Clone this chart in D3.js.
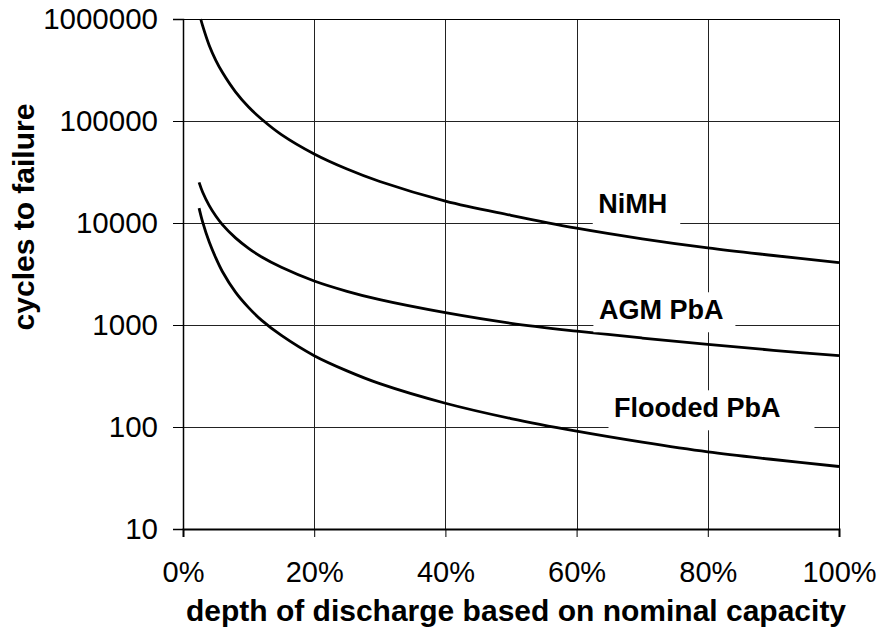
<!DOCTYPE html>
<html>
<head>
<meta charset="utf-8">
<script src="https://cdn.jsdelivr.net/npm/d3@7"></script>
<style>
body { margin: 0; background: #fff; }
text { font-family: "Liberation Sans", Arial, sans-serif; }
</style>
</head>
<body>
<script>
var margin = {top: 19, right: 39, bottom: 98, left: 183},
width = 656,
height = 510;

// depth of discharge (%) and cycles to failure
var nimhDod = [2.7, 3, 4, 5, 6, 8, 10, 12, 15, 20, 25, 30, 40, 50, 60, 70, 80, 90, 100];
var nimhCycles = [1000000, 856000, 550000, 393000, 300000, 193000, 137000, 104000, 73500, 47500, 33800, 25500, 16400, 11900, 8900, 7000, 5700, 4800, 4080];
var pbaDod = [2.45, 3, 4, 5, 6, 8, 10, 12, 15, 20, 25, 30, 40, 50, 60, 70, 80, 90, 100];
var agmCycles = [25000, 20000, 14800, 11700, 9650, 7150, 5650, 4640, 3680, 2700, 2140, 1770, 1320, 1040, 870, 745, 645, 565, 500];
var floodedCycles = [14000, 10200, 6500, 4550, 3350, 2100, 1480, 1110, 790, 500, 355, 266, 171, 121, 91, 71, 57, 48, 41];

var xTicks = [0, 20, 40, 60, 80, 100];
var yTicks = [10, 100, 1000, 10000, 100000, 1000000];

var seriesNames = ["NiMH", "AGM PbA", "Flooded PbA"];
var series = [
  nimhDod.map(function (d, i) { return {dod: d, cycles: nimhCycles[i]}; }),
  pbaDod.map(function (d, i) { return {dod: d, cycles: agmCycles[i]}; }),
  pbaDod.map(function (d, i) { return {dod: d, cycles: floodedCycles[i]}; })
];

// label placement: text start (%), baseline (cycles), extra white box on the right
var labelLayout = [
  {x: 63.3, y: 12450, padRight: 13},
  {x: 63.4, y: 1138, padRight: 12},
  {x: 65.7, y: 124.5, padRight: 34}
];

var svg = d3.select('body').append('svg')
  .attr('width', 878).attr('height', 627)
  .append('g')
  .attr('transform', 'translate(' + margin.left + ',' + margin.top + ')');

var x = d3.scaleLinear().domain([0, 100]).range([0, width]);
var y = d3.scaleLog().domain([10, 1000000]).range([height, 0]);

// grid
svg.append('g').selectAll('line.h')
  .data(yTicks)
  .enter().append('line')
  .attr('x1', 0).attr('x2', width)
  .attr('y1', function (d) { return Math.round(y(d)) + 0.5; })
  .attr('y2', function (d) { return Math.round(y(d)) + 0.5; })
  .attr('stroke', '#222').attr('stroke-width', 1);

svg.append('g').selectAll('line.v')
  .data(xTicks)
  .enter().append('line')
  .attr('y1', 0).attr('y2', height)
  .attr('x1', function (d) { return Math.round(x(d)) + 0.5; })
  .attr('x2', function (d) { return Math.round(x(d)) + 0.5; })
  .attr('stroke', '#222').attr('stroke-width', 1);

// curves
var line = d3.line()
  .x(function (d) { return x(d.dod); })
  .y(function (d) { return y(d.cycles); })
  .curve(d3.curveCatmullRom.alpha(0.5));

svg.selectAll('.curve')
  .data(series)
  .enter().append('path')
  .attr('class', 'curve')
  .attr('d', line)
  .attr('fill', 'none')
  .attr('stroke', '#000')
  .attr('stroke-width', 2.8);

// labels with white boxes
var labels = svg.selectAll('.lbl')
  .data(seriesNames)
  .enter().append('g')
  .attr('class', 'lbl');

labels.each(function (name, i) {
  var g = d3.select(this);
  var lay = labelLayout[i];
  var tx = x(lay.x), ty = y(lay.y);
  var rect = g.append('rect').attr('fill', '#fff');
  var t = g.append('text')
    .attr('x', tx).attr('y', ty)
    .attr('font-size', 27).attr('font-weight', 'bold')
    .text(name);
  var bb = t.node().getBBox();
  rect.attr('x', tx - 5.5).attr('y', ty - 27)
    .attr('width', bb.width + 5.5 + lay.padRight)
    .attr('height', 40);
});

// axes
var yAxis = svg.append('g')
  .call(d3.axisLeft(y).tickValues(yTicks).tickFormat(d3.format('d')).tickSize(10).tickPadding(15));
yAxis.selectAll('text').attr('font-size', 29.5).attr('fill', '#000');
yAxis.select('.domain').attr('stroke-width', 1.5);

var xAxis = svg.append('g')
  .attr('transform', 'translate(0,' + height + ')')
  .call(d3.axisBottom(x).tickValues(xTicks).tickFormat(function (d) { return d + '%'; }).tickSize(8).tickPadding(24));
xAxis.selectAll('text').attr('font-size', 29).attr('fill', '#000');
xAxis.select('.domain').attr('stroke-width', 2);

// top and right borders
svg.append('line').attr('x1', 0).attr('x2', width).attr('y1', 0.5).attr('y2', 0.5).attr('stroke', '#000');
svg.append('line').attr('x1', width + 0.5).attr('x2', width + 0.5).attr('y1', 0).attr('y2', height).attr('stroke', '#000');

// titles
svg.append('text')
  .attr('x', 333).attr('y', 602)
  .attr('text-anchor', 'middle')
  .attr('font-size', 30).attr('font-weight', 'bold')
  .text('depth of discharge based on nominal capacity');

svg.append('text')
  .attr('transform', 'translate(' + (34 - margin.left) + ',' + (217 - margin.top) + ') rotate(-90)')
  .attr('text-anchor', 'middle')
  .attr('font-size', 30).attr('font-weight', 'bold')
  .text('cycles to failure');
</script>
</body>
</html>
